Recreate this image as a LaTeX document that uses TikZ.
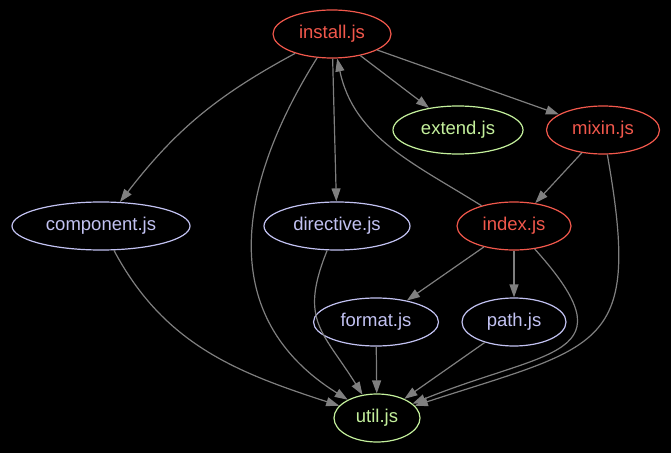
\documentclass[tikz,border=0pt]{standalone}
\usepackage{fontspec}
\setmainfont{Liberation Sans}
\usetikzlibrary{shapes.geometric,arrows.meta}
\definecolor{jsred}{HTML}{F2584C}
\definecolor{jsgreen}{HTML}{C4F09C}
\definecolor{jsblue}{HTML}{C2C2F2}
\definecolor{jsedge}{HTML}{7F7F7F}
\tikzset{
  file/.style={ellipse,draw=#1,text=#1,line width=1.2pt,minimum height=48pt,inner sep=0pt,font=\fontsize{18.5pt}{20pt}\selectfont},
  dep/.style={draw=jsedge,line width=1.2pt,-{Triangle[length=13pt,width=9pt]}}
}
\begin{document}
\begin{tikzpicture}[x=1pt,y=1pt]
\useasboundingbox (0,0) rectangle (671,453);
\fill[black] (0,0) rectangle (671,453);
\node[file=jsred,minimum width=118pt] (install) at (332,419) {install.js};
\node[file=jsgreen,minimum width=130pt] (extend) at (458,323) {extend.js};
\node[file=jsred,minimum width=113pt] (mixin) at (603,323) {mixin.js};
\node[file=jsblue,minimum width=178pt] (component) at (101,227) {component.js};
\node[file=jsblue,minimum width=146pt] (directive) at (337,227) {directive.js};
\node[file=jsred,minimum width=114pt] (index) at (514,227) {index.js};
\node[file=jsblue,minimum width=125pt] (format) at (376,131) {format.js};
\node[file=jsblue,minimum width=104pt] (path) at (514,131) {path.js};
\node[file=jsgreen,minimum width=86pt] (util) at (377,35) {util.js};
\draw[dep] (install) to[bend right=12] (component);
\draw[dep] (install) to[out=-122,in=148,looseness=1.15] (util);
\draw[dep] (install) -- (directive);
\draw[dep] (install) -- (extend);
\draw[dep] (install) -- (mixin);
\draw[dep] (index) to[out=148,in=-78] (install);
\draw[dep] (mixin) to[out=-80,in=18,looseness=1.6] (util);
\draw[dep] (mixin) -- (index);
\draw[dep] (component) to[out=-62,in=162] (util);
\draw[dep] (directive) to[out=-112,in=122,looseness=1.3] (util);
\draw[dep] (index) -- (format);
\draw[dep] (index) -- (path);
\draw[dep] (index) to[out=-48,in=22,looseness=1.9] (util);
\draw[dep] (format) -- (util);
\draw[dep] (path) -- (util);
\end{tikzpicture}
\end{document}
